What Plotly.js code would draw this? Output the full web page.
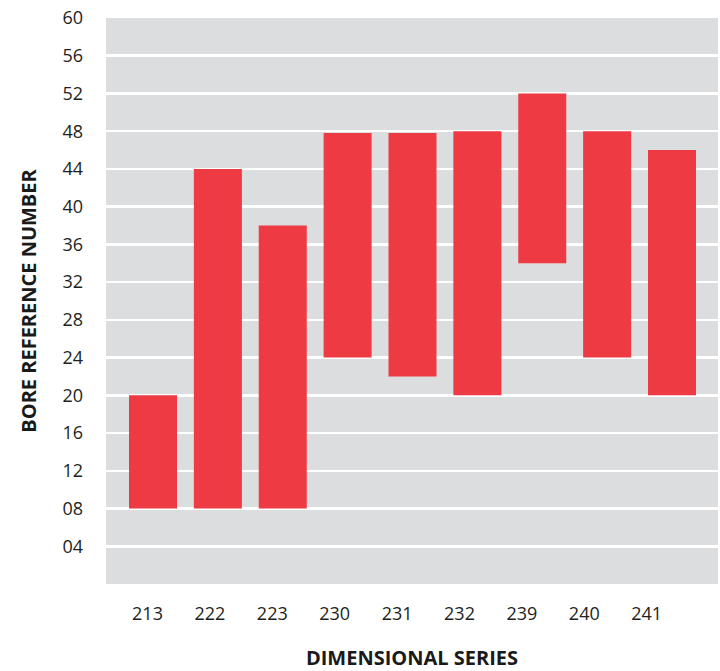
<!DOCTYPE html>
<html>
<head>
<meta charset="utf-8">
<script src="https://cdn.plot.ly/plotly-3.0.1.min.js"></script>
<style>html,body{margin:0;padding:0;background:#fff;}#chart{width:720px;height:671px;}</style>
</head>
<body>
<div id="chart"></div>
<script>
// Data
var series = ["213", "222", "223", "230", "231", "232", "239", "240", "241"];
var boreLow = [8, 8, 8, 24, 22, 20, 34, 24, 20];
var boreHigh = [20, 44, 38, 47.8, 47.8, 48, 52, 48, 46];
var yTickVals = [4, 8, 12, 16, 20, 24, 28, 32, 36, 40, 44, 48, 52, 56, 60];
var yTickText = ["04", "08", "12", "16", "20", "24", "28", "32", "36", "40", "44", "48", "52", "56", "60"];

var spans = boreHigh.map(function (h, i) { return h - boreLow[i]; });

var bars = {
  type: "bar",
  x: series,
  y: spans,
  base: boreLow,
  width: 0.74,
  marker: { color: "#EE3A43", line: { width: 0 } },
  hoverinfo: "x+y",
  xaxis: "x",
  yaxis: "y",
  showlegend: false
};

// invisible helper trace carrying the category labels axis
var labels = {
  type: "scatter",
  mode: "markers",
  x: series,
  y: boreLow,
  marker: { opacity: 0, size: 1 },
  hoverinfo: "skip",
  xaxis: "x2",
  yaxis: "y",
  showlegend: false
};

var tickFont = { family: "Open Sans, sans-serif", size: 18, color: "#231F20" };
var titleFont = { family: "Open Sans, sans-serif", size: 20, color: "#1A1A1A", weight: 700 };

var layout = {
  width: 720,
  height: 671,
  margin: { l: 106, r: 2, t: 18, b: 87, pad: 0 },
  paper_bgcolor: "#FFFFFF",
  plot_bgcolor: "#DCDDDF",
  showlegend: false,
  xaxis: {
    type: "category",
    range: [-0.7245, 8.709],
    showticklabels: false,
    showgrid: false,
    zeroline: false,
    showline: false,
    ticks: "",
    fixedrange: true,
    automargin: false
  },
  xaxis2: {
    type: "category",
    overlaying: "x",
    anchor: "y",
    side: "bottom",
    range: [-0.665, 9.143],
    showgrid: false,
    zeroline: false,
    showline: false,
    ticks: "",
    ticklabelstandoff: 17,
    tickfont: tickFont,
    title: { text: "DIMENSIONAL SERIES", font: titleFont, standoff: 30 },
    automargin: false
  },
  yaxis: {
    range: [0, 60],
    tickmode: "array",
    tickvals: yTickVals,
    ticktext: yTickText,
    tickfont: tickFont,
    ticks: "",
    ticklabelstandoff: 22,
    showgrid: true,
    gridcolor: "#FFFFFF",
    gridwidth: 2.5,
    zeroline: false,
    showline: false,
    title: { text: "BORE REFERENCE NUMBER", font: titleFont, standoff: 20 },
    automargin: false,
    fixedrange: true
  }
};

Plotly.newPlot("chart", [bars, labels], layout, { displayModeBar: false, staticPlot: true });
</script>
</body>
</html>
